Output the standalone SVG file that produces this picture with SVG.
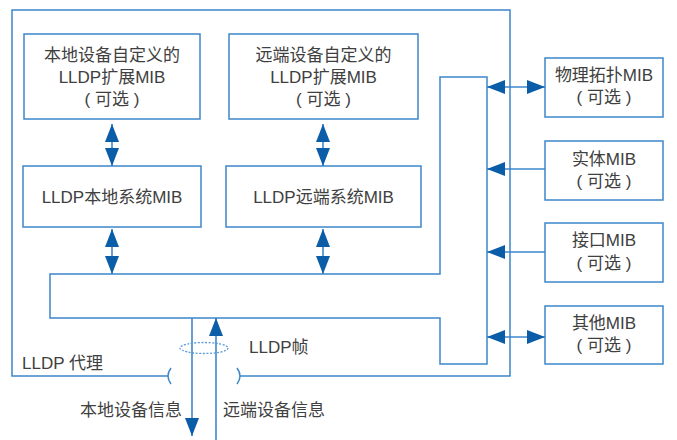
<svg xmlns="http://www.w3.org/2000/svg" width="677" height="440" viewBox="0 0 677 440">
<defs>
<style>
.box{fill:#fff;stroke:#3d87cc;stroke-width:1.5}
.ln{fill:none;stroke:#3d87cc;stroke-width:1.5}
.ar{fill:none;stroke:#3d87cc;stroke-width:1.6}
.t{font-family:"Liberation Sans","Noto Sans CJK SC",sans-serif;font-size:17px;fill:#404040;text-anchor:middle}
.tl{font-family:"Liberation Sans","Noto Sans CJK SC",sans-serif;font-size:17px;fill:#404040}
</style>
<marker id="ah" viewBox="0 0 18 14" refX="18" refY="7" markerWidth="18" markerHeight="14" markerUnits="userSpaceOnUse" orient="auto-start-reverse">
<path d="M0,0 L18,7 L0,14 z" fill="#0c5da8"/>
</marker>
</defs>
<rect width="677" height="440" fill="#fff"/>

<g id="agent">
<path class="ln" d="M168,376 H12 V10 H510 V376 H240"/>
<path class="ln" d="M171,368 Q165,376 171,384"/>
<path class="ln" d="M237,368 Q243,376 237,384"/>
<text class="tl" x="22" y="369">LLDP 代理</text>
</g>

<g id="bus">
<path class="box" d="M50,274 H440 V77 H487 V364 H440 V318 H50 Z"/>
</g>

<g id="local-ext">
<rect class="box" x="24" y="34" width="176" height="85"/>
<text class="t" x="112" y="61">本地设备自定义的</text>
<text class="t" x="112" y="83">LLDP扩展MIB</text>
<text class="t" x="112" y="105">( 可选 )</text>
</g>

<g id="remote-ext">
<rect class="box" x="229" y="34" width="189" height="85"/>
<text class="t" x="323.5" y="61">远端设备自定义的</text>
<text class="t" x="323.5" y="83">LLDP扩展MIB</text>
<text class="t" x="323.5" y="105">( 可选 )</text>
</g>

<g id="local-sys">
<rect class="box" x="23" y="166" width="178" height="61"/>
<text class="t" x="112" y="203">LLDP本地系统MIB</text>
</g>

<g id="remote-sys">
<rect class="box" x="226" y="166" width="195" height="61"/>
<text class="t" x="323.5" y="203">LLDP远端系统MIB</text>
</g>

<g id="phys">
<rect class="box" x="545" y="58" width="118" height="59"/>
<text class="t" x="604" y="81">物理拓扑MIB</text>
<text class="t" x="604" y="103">( 可选 )</text>
</g>

<g id="entity">
<rect class="box" x="545" y="141" width="118" height="59"/>
<text class="t" x="604" y="165">实体MIB</text>
<text class="t" x="604" y="187">( 可选 )</text>
</g>

<g id="iface">
<rect class="box" x="545" y="223" width="118" height="59"/>
<text class="t" x="604" y="246">接口MIB</text>
<text class="t" x="604" y="269">( 可选 )</text>
</g>

<g id="other">
<rect class="box" x="545" y="306" width="118" height="58"/>
<text class="t" x="604" y="329">其他MIB</text>
<text class="t" x="604" y="351">( 可选 )</text>
</g>

<g id="connectors">
<line class="ar" x1="112" y1="124" x2="112" y2="166" marker-start="url(#ah)" marker-end="url(#ah)"/>
<line class="ar" x1="323" y1="124" x2="323" y2="166" marker-start="url(#ah)" marker-end="url(#ah)"/>
<line class="ar" x1="112" y1="229" x2="112" y2="274" marker-start="url(#ah)" marker-end="url(#ah)"/>
<line class="ar" x1="323" y1="229" x2="323" y2="274" marker-start="url(#ah)" marker-end="url(#ah)"/>
<line class="ar" x1="487" y1="87" x2="545" y2="87" marker-start="url(#ah)" marker-end="url(#ah)"/>
<line class="ar" x1="545" y1="169" x2="487" y2="169" marker-end="url(#ah)"/>
<line class="ar" x1="545" y1="252" x2="487" y2="252" marker-end="url(#ah)"/>
<line class="ar" x1="487" y1="337" x2="545" y2="337" marker-start="url(#ah)" marker-end="url(#ah)"/>
<line class="ar" x1="192" y1="318" x2="192" y2="436" marker-end="url(#ah)"/>
<line class="ar" x1="216" y1="440" x2="216" y2="318" marker-end="url(#ah)"/>
<ellipse cx="204" cy="348" rx="24" ry="5.5" fill="none" stroke="#5a9ad6" stroke-width="1.3" stroke-dasharray="2 1.5"/>
</g>

<g id="labels">
<text class="tl" x="249" y="353">LLDP帧</text>
<text class="t" x="131" y="416">本地设备信息</text>
<text class="tl" x="223" y="416">远端设备信息</text>
</g>
</svg>
